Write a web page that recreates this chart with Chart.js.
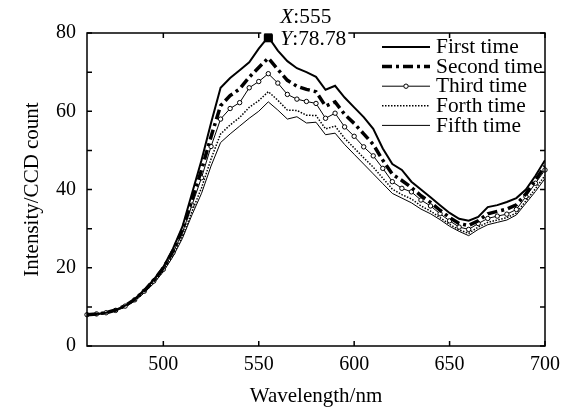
<!DOCTYPE html>
<html>
<head>
<meta charset="utf-8">
<script src="https://cdn.jsdelivr.net/npm/chart.js@4.4.1/dist/chart.umd.min.js"></script>
<style>
  html, body { margin: 0; padding: 0; background: #fff; }
  #wrap { width: 570px; height: 407px; }
</style>
</head>
<body>
<div id="wrap"><canvas id="chart" width="570" height="407"></canvas></div>
<script>
// Spectrum data (5 nm steps)
const wavelengths = [460, 465, 470, 475, 480, 485, 490, 495, 500, 505, 510, 515, 520, 525, 530, 535, 540, 545, 550, 555,
    560, 565, 570, 575, 580, 585, 590, 595, 600, 605, 610, 615, 620, 625, 630, 635, 640, 645, 650, 655,
    660, 665, 670, 675, 680, 685, 690, 695, 700];

const firstTime = [8.0, 8.2, 8.5, 9.2, 10.3, 12.0, 14.3, 17.0, 20.2, 24.8, 30.5, 39.0, 47.5, 57.0, 66.0, 68.5, 70.5, 72.5, 76.0, 79.0,
    75.5, 72.8, 71.0, 70.0, 68.8, 65.5, 66.5, 63.5, 61.0, 58.5, 55.5, 50.5, 46.5, 45.0, 42.0, 40.0, 38.0, 36.0, 34.0, 32.5,
    32.0, 33.0, 35.5, 36.0, 36.8, 37.8, 40.0, 43.5, 47.5];

const secondTime = [8.0, 8.2, 8.5, 9.2, 10.3, 11.9, 14.1, 16.8, 19.9, 24.2, 29.6, 37.3, 45.0, 53.5, 61.4, 64.0, 65.7, 68.7, 71.2, 73.6,
    70.7, 67.9, 66.4, 65.6, 65.0, 61.3, 62.4, 59.2, 56.9, 54.2, 51.5, 47.5, 43.9, 42.3, 40.5, 38.4, 36.7, 34.7, 32.8, 31.3,
    30.8, 32.0, 33.8, 34.4, 35.0, 36.1, 38.9, 42.4, 46.0];

const thirdTime = [8.0, 8.2, 8.5, 9.1, 10.2, 11.8, 14.0, 16.6, 19.6, 23.8, 29.0, 36.0, 43.0, 51.0, 58.0, 60.7, 62.2, 66.0, 67.6, 69.6,
    67.2, 64.3, 63.1, 62.5, 62.0, 58.2, 59.5, 56.0, 53.6, 50.9, 48.6, 45.4, 42.0, 40.3, 39.4, 37.3, 35.8, 33.8, 32.0, 30.4,
    29.8, 31.3, 32.6, 33.2, 33.7, 34.9, 38.2, 41.6, 45.0];

const forthTime = [8.0, 8.1, 8.4, 9.0, 10.1, 11.6, 13.8, 16.2, 19.2, 23.2, 28.0, 34.4, 40.4, 47.8, 54.2, 56.5, 58.4, 61.0, 62.7, 65.0,
    62.8, 60.3, 60.2, 59.0, 58.9, 55.5, 56.2, 53.1, 50.6, 48.1, 45.7, 42.9, 40.1, 38.7, 37.6, 35.8, 34.5, 32.8, 31.1, 29.7,
    28.8, 30.4, 31.6, 32.2, 32.8, 34.0, 37.1, 40.2, 43.6];

const fifthTime = [8.0, 8.1, 8.4, 9.0, 10.0, 11.5, 13.6, 16.0, 19.0, 22.8, 27.5, 33.5, 39.0, 46.0, 52.0, 54.2, 56.2, 58.2, 60.0, 62.4,
    60.3, 58.0, 58.6, 57.0, 57.2, 54.0, 54.4, 51.5, 49.0, 46.5, 44.0, 41.5, 39.0, 37.8, 36.6, 35.0, 33.8, 32.3, 30.6, 29.3,
    28.2, 29.8, 31.0, 31.6, 32.2, 33.5, 36.5, 39.5, 42.8];

const seriesNames = ['First time', 'Second time', 'Third time', 'Forth time', 'Fifth time'];
const xTickValues = [500, 550, 600, 650, 700];
const yLabelStep = 20;

// data tip (MATLAB style marker)
const tipX = [555];
const tipY = [78.78];

const SERIF = '"Liberation Serif", "Times New Roman", serif';
const FONT_SIZE = 20;
const TITLE_SIZE = 21;
const TEXT_STRETCH = 1.07; // teks asli sedikit melebar

function toPoints(values) {
    return wavelengths.map((w, i) => ({ x: w, y: values[i] }));
}

// tulis teks dengan sedikit peregangan horizontal
function wideText(ctx, str, x, y) {
    ctx.save();
    ctx.translate(x, y);
    ctx.scale(TEXT_STRETCH, 1);
    ctx.fillText(str, 0, 0);
    ctx.restore();
    return ctx.measureText(str).width * TEXT_STRETCH;
}

// Kotak + tick ke dalam di keempat sisi
const frameTicks = {
    id: 'frameTicks',
    afterDatasetsDraw(chart) {
        const { ctx, chartArea: a, scales: { x, y } } = chart;
        const len = 5;
        ctx.save();
        ctx.strokeStyle = '#000';
        ctx.lineWidth = 1.5;
        ctx.strokeRect(a.left, a.top, a.right - a.left, a.bottom - a.top);
        ctx.beginPath();
        y.ticks.forEach(t => {
            const py = y.getPixelForValue(t.value);
            ctx.moveTo(a.left, py); ctx.lineTo(a.left + len, py);
            ctx.moveTo(a.right, py); ctx.lineTo(a.right - len, py);
        });
        x.ticks.forEach(t => {
            const px = x.getPixelForValue(t.value);
            ctx.moveTo(px, a.bottom); ctx.lineTo(px, a.bottom - len);
            ctx.moveTo(px, a.top); ctx.lineTo(px, a.top + len);
        });
        ctx.stroke();
        ctx.restore();
    }
};

// Legend di dalam plot, kanan atas
const insideLegend = {
    id: 'insideLegend',
    afterDraw(chart) {
        const { ctx } = chart;
        const x0 = 382, x1 = 430, textX = 436, rowY = 47, rowH = 19.6;
        ctx.save();
        ctx.font = `${FONT_SIZE}px ${SERIF}`;
        ctx.textBaseline = 'middle';
        ctx.fillStyle = '#000';
        seriesNames.forEach((name, i) => {
            const ds = chart.data.datasets[i];
            const yy = rowY + i * rowH;
            ctx.strokeStyle = '#000';
            ctx.lineWidth = ds.borderWidth;
            ctx.setLineDash(ds.borderDash || []);
            ctx.beginPath();
            ctx.moveTo(x0, yy); ctx.lineTo(x1, yy);
            ctx.stroke();
            ctx.setLineDash([]);
            if (ds.pointRadius > 0) {
                ctx.beginPath();
                ctx.arc((x0 + x1) / 2, yy, ds.pointRadius, 0, Math.PI * 2);
                ctx.fillStyle = '#fff';
                ctx.fill();
                ctx.lineWidth = 1;
                ctx.stroke();
                ctx.fillStyle = '#000';
            }
            wideText(ctx, name, textX, yy + 1);
        });
        ctx.restore();
    }
};

// Teks data tip: X:555 / Y:78.78
const dataTip = {
    id: 'dataTip',
    afterDraw(chart) {
        const { ctx, chartArea: a, scales: { x, y } } = chart;
        const px = x.getPixelForValue(tipX[0]);
        const py = y.getPixelForValue(tipY[0]);
        const left = px + 12;
        const rows = [
            { key: 'X', val: ':' + tipX[0], yy: py - 20 },
            { key: 'Y', val: ':' + tipY[0].toFixed(2), yy: py + 2 }
        ];
        ctx.save();
        ctx.textBaseline = 'middle';
        // latar putih di belakang teks, dan celah kecil pada bingkai atas dekat marker
        ctx.fillStyle = '#fff';
        ctx.fillRect(px - 7, a.top - 2, left - px + 7, 4);
        rows.forEach(r => {
            ctx.font = `italic ${FONT_SIZE}px ${SERIF}`;
            const wKey = ctx.measureText(r.key).width * TEXT_STRETCH;
            ctx.font = `${FONT_SIZE}px ${SERIF}`;
            const wVal = ctx.measureText(r.val).width * TEXT_STRETCH;
            ctx.fillRect(left - 2, r.yy - 9, wKey + wVal + 4, 18);
        });
        // gambar ulang marker di atas latar putih
        chart.getDatasetMeta(5).data.forEach(el => el.draw(ctx));
        ctx.fillStyle = '#000';
        rows.forEach(r => {
            ctx.font = `italic ${FONT_SIZE}px ${SERIF}`;
            const wKey = wideText(ctx, r.key, left, r.yy);
            ctx.font = `${FONT_SIZE}px ${SERIF}`;
            wideText(ctx, r.val, left + wKey, r.yy);
        });
        ctx.restore();
    }
};

const ctx = document.getElementById('chart').getContext('2d');
new Chart(ctx, {
    type: 'line',
    data: {
        datasets: [
            { label: seriesNames[0], data: toPoints(firstTime), borderColor: '#000', borderWidth: 2, pointRadius: 0 },
            { label: seriesNames[1], data: toPoints(secondTime), borderColor: '#000', borderWidth: 3.5, borderDash: [10, 4, 3, 4], pointRadius: 0 },
            { label: seriesNames[2], data: toPoints(thirdTime), borderColor: '#000', borderWidth: 1, pointRadius: 2.2,
              pointBackgroundColor: '#fff', pointBorderColor: '#000', pointBorderWidth: 1, clip: false },
            { label: seriesNames[3], data: toPoints(forthTime), borderColor: '#000', borderWidth: 1.5, borderDash: [1.5, 1.5], pointRadius: 0 },
            { label: seriesNames[4], data: toPoints(fifthTime), borderColor: '#000', borderWidth: 1, pointRadius: 0 },
            { label: 'tip', data: tipX.map((v, i) => ({ x: v, y: tipY[i] })), showLine: false, pointStyle: 'rect',
              pointRadius: 5.5, pointBackgroundColor: '#000', pointBorderColor: '#000', clip: false }
        ]
    },
    options: {
        responsive: false,
        animation: false,
        devicePixelRatio: 1,
        layout: { padding: { top: 33, right: 25, left: 0, bottom: 0 } },
        elements: { line: { tension: 0, borderCapStyle: 'butt' } },
        plugins: { legend: { display: false }, tooltip: { enabled: false } },
        scales: {
            x: {
                type: 'linear',
                min: 460,
                max: 700,
                afterBuildTicks: s => { s.ticks = xTickValues.map(v => ({ value: v })); },
                afterFit: s => { s.height = 61; },
                grid: { display: false, drawTicks: false },
                border: { display: false },
                ticks: { color: '#000', padding: 7, maxRotation: 0, font: { family: SERIF, size: FONT_SIZE } },
                title: { display: true, text: 'Wavelength/nm', color: '#000', padding: { top: 0, bottom: 0 },
                         font: { family: SERIF, size: TITLE_SIZE, lineHeight: 1 } }
            },
            y: {
                min: 0,
                max: 80,
                ticks: {
                    stepSize: 10,
                    color: '#000',
                    padding: 11,
                    font: { family: SERIF, size: FONT_SIZE },
                    callback: v => (v % yLabelStep === 0 ? v : '')
                },
                afterFit: s => { s.width = 87; },
                grid: { display: false, drawTicks: false },
                border: { display: false },
                title: { display: true, text: 'Intensity/CCD count', color: '#000', padding: { top: 20, bottom: 0 },
                         font: { family: SERIF, size: TITLE_SIZE } }
            }
        }
    },
    plugins: [frameTicks, insideLegend, dataTip]
});
</script>
</body>
</html>
